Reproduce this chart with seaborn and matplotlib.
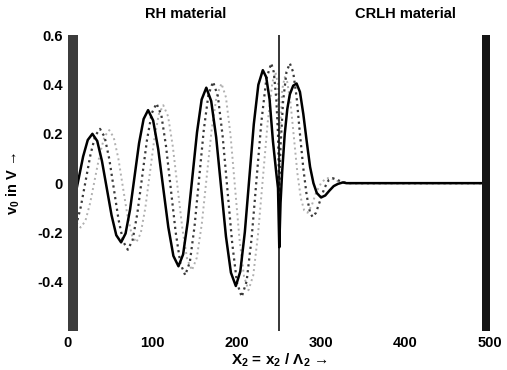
import matplotlib
matplotlib.use("Agg")
import matplotlib.pyplot as plt
import seaborn as sns
import pandas as pd

# ---------------- data ----------------
# solid black curve (reference instant)
solid_x = [0, 4, 7, 12.5, 18, 23.5, 29,
           34.7, 40.3, 46, 51.7, 57.3, 63,
           68.3, 73.7, 79, 84.3, 89.7, 95,
           101, 107, 113, 119, 125, 131,
           136.5, 142, 147.5, 153, 158.5, 164,
           169.8, 175.7, 181.5, 187.3, 193.2, 199,
           204.3, 209.7, 215, 220.3, 225.7, 231,
           235, 239, 243, 247, 249, 250.5, 252, 254, 257, 260, 263, 267, 271,
           275, 279, 283, 287, 291, 295, 300, 305, 310, 315, 320, 326, 330, 500]
solid_v = [-0.157, -0.119, -0.078, 0.015, 0.108, 0.175, 0.200,
           0.171, 0.090, -0.020, -0.130, -0.211, -0.240,
           -0.204, -0.106, 0.028, 0.162, 0.260, 0.296,
           0.254, 0.138, -0.021, -0.179, -0.295, -0.337,
           -0.289, -0.156, 0.025, 0.206, 0.339, 0.387,
           0.333, 0.186, -0.015, -0.216, -0.363, -0.417,
           -0.358, -0.198, 0.021, 0.239, 0.399, 0.458,
           0.430, 0.340, 0.170, 0.040, -0.020, -0.260, -0.080, 0.050, 0.200, 0.300, 0.360, 0.395, 0.404,
           0.370, 0.280, 0.170, 0.066, 0.000, -0.040, -0.058, -0.050, -0.030, -0.012, -0.003, 0.003, 0.000, 0.000]

# dark dotted curve (later instant)
dark_x = [0, 4, 9.7, 15.3, 21, 26.7, 32.3, 38,
          43.5, 49, 54.5, 60, 65.5, 71,
          76.7, 82.3, 88, 93.7, 99.3, 105,
          110.7, 116.3, 122, 127.7, 133.3, 139,
          144.5, 150, 155.5, 161, 166.5, 172,
          177.7, 183.3, 189, 194.7, 200.3, 206,
          211.8, 217.7, 223.5, 229.3, 235.2, 241,
          244, 247, 249, 250.5, 252, 255, 259, 263, 267, 271, 275, 279, 283, 287, 290,
          294, 299, 304, 309, 314, 320, 326, 332, 500]
dark_v = [-0.195, -0.200, -0.172, -0.095, 0.010, 0.115, 0.192, 0.220,
          0.187, 0.098, -0.025, -0.148, -0.237, -0.270,
          -0.230, -0.122, 0.027, 0.175, 0.283, 0.323,
          0.276, 0.149, -0.025, -0.199, -0.326, -0.373,
          -0.320, -0.177, 0.019, 0.215, 0.358, 0.411,
          0.353, 0.193, -0.025, -0.243, -0.403, -0.461,
          -0.398, -0.224, 0.013, 0.249, 0.423, 0.486,
          0.450, 0.340, 0.200, -0.050, 0.150, 0.330, 0.450, 0.486, 0.450, 0.350, 0.200, 0.060, -0.050, -0.120, -0.137,
          -0.120, -0.070, -0.020, 0.012, 0.020, 0.012, 0.004, 0.000, 0.000]

# light dotted curve (still later instant)
light_x = [0, 5, 10, 15,
           20.7, 26.3, 32, 37.7, 43.3, 49,
           54.3, 59.7, 65, 70.3, 75.7, 81,
           86.3, 91.7, 97, 102.3, 107.7, 113,
           118.7, 124.3, 130, 135.7, 141.3, 147,
           152.8, 158.7, 164.5, 170.3, 176.2, 182,
           187.3, 192.7, 198, 203.3, 208.7, 214,
           219.7, 225.3, 231, 236.7, 242.3, 246, 249, 250.5,
           252, 254, 257, 260, 264, 268, 272, 276, 280, 284, 289, 294, 300, 306, 312, 318, 325, 332, 500]
light_v = [-0.040, -0.110, -0.160, -0.180,
           -0.153, -0.081, 0.018, 0.116, 0.189, 0.215,
           0.185, 0.101, -0.013, -0.126, -0.210, -0.240,
           -0.203, -0.101, 0.038, 0.177, 0.279, 0.316,
           0.271, 0.149, -0.019, -0.186, -0.308, -0.353,
           -0.302, -0.164, 0.026, 0.215, 0.353, 0.404,
           0.348, 0.195, -0.015, -0.225, -0.378, -0.434,
           -0.373, -0.208, 0.018, 0.244, 0.409, 0.450, 0.400, 0.000,
           0.250, 0.380, 0.430, 0.410, 0.320, 0.180, 0.040, -0.060, -0.110, -0.120, -0.090, -0.040, 0.000, 0.020, 0.020, 0.010, 0.003, 0.000, 0.000]

left_wall = [0, 12]
right_wall = [491, 500]
interface_x = 250

x_ticks = [0, 100, 200, 300, 400, 500]
y_ticks = [-0.4, -0.2, 0, 0.2, 0.4, 0.6]
y_tick_labels = ["-0.4", "-0.2", "0", "0.2", "0.4", "0.6"]
region_labels = ["RH material", "CRLH material"]
region_label_x = [140, 400]

# ---------------- style ----------------
sns.set_theme(style="white")
plt.rcParams["font.family"] = ["Liberation Sans", "DejaVu Sans"]
plt.rcParams["mathtext.fontset"] = "custom"
plt.rcParams["mathtext.rm"] = "Liberation Sans"
plt.rcParams["mathtext.it"] = "Liberation Sans:italic"
plt.rcParams["mathtext.bf"] = "Liberation Sans:bold"

fig = plt.figure(figsize=(5.07, 3.70), dpi=100)
ax = fig.add_axes([0.134, 0.105, 0.832, 0.800])

df_s = pd.DataFrame({"x": solid_x, "v": solid_v})
df_d = pd.DataFrame({"x": dark_x, "v": dark_v})
df_l = pd.DataFrame({"x": light_x, "v": light_v})

sns.lineplot(data=df_l, x="x", y="v", ax=ax, color="#b0b0b0", linestyle=":",
             linewidth=1.4, sort=False, estimator=None, zorder=2)
sns.lineplot(data=df_d, x="x", y="v", ax=ax, color="#3a3a3a", linestyle=":",
             linewidth=1.6, sort=False, estimator=None, zorder=3)
sns.lineplot(data=df_s, x="x", y="v", ax=ax, color="black", linestyle="-",
             linewidth=1.8, sort=False, estimator=None, zorder=4)

ax.axvspan(left_wall[0], left_wall[1], color="#3c3c3c", zorder=5, lw=0)
ax.axvspan(right_wall[0], right_wall[1], color="#151515", zorder=5, lw=0)
ax.axvline(interface_x, color="black", linewidth=1.1, zorder=6)

ax.set_xlim(0, 500)
ax.set_ylim(-0.6, 0.6)
ax.set_xticks(x_ticks)
ax.set_xticklabels([str(t) for t in x_ticks])
ax.set_yticks(y_ticks)
ax.set_yticklabels(y_tick_labels)
ax.tick_params(axis="both", length=0, labelsize=10.5, colors="black")
ax.tick_params(axis="x", pad=3.5)
ax.tick_params(axis="y", pad=3.5)
for lab in ax.get_xticklabels() + ax.get_yticklabels():
    lab.set_fontweight("bold")
for s in ax.spines.values():
    s.set_visible(False)

ax.set_xlabel(r"X$_\mathbf{2}$ = x$_\mathbf{2}$ / Λ$_\mathbf{2}$ →", fontsize=11,
              fontweight="bold", color="black")
ax.xaxis.set_label_coords(0.502, -0.068)
ax.set_ylabel(r"v$_\mathbf{0}$ in V →", fontsize=10.5, fontweight="bold", color="black")
ax.yaxis.set_label_coords(-0.108, 0.5)

for txt, xx in zip(region_labels, region_label_x):
    ax.text(xx, 0.686, txt, ha="center", va="center", fontsize=10.5,
            fontweight="bold", color="black", clip_on=False)

fig.savefig("out.png", dpi=100)
